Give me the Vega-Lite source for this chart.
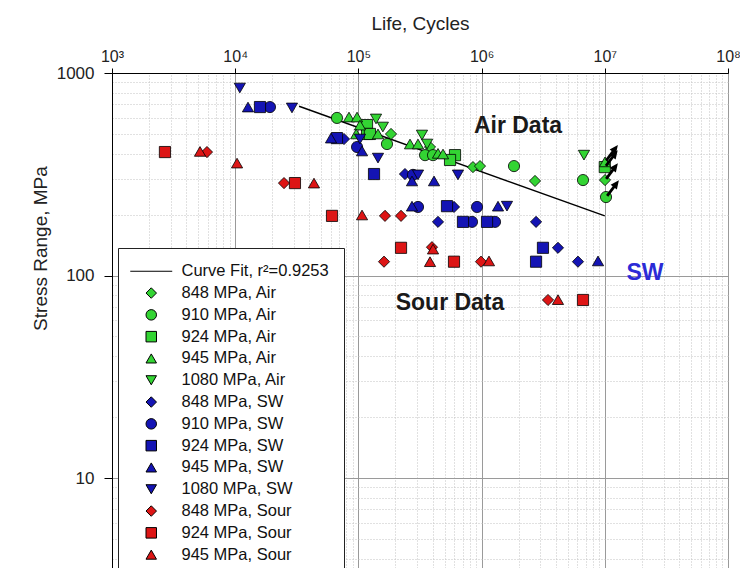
{
  "$schema": "https://vega.github.io/schema/vega-lite/v6.json",
  "width": 616,
  "height": 495,
  "autosize": {"type": "none"},
  "padding": {"left": 112, "top": 73, "right": 12, "bottom": 0},
  "background": "white",
  "config": {
    "font": "Liberation Sans",
    "view": {"stroke": "black", "strokeWidth": 1},
    "axis": {"labelColor": "#222", "titleColor": "#222", "titleFontWeight": "normal", "domainColor": "black", "tickColor": "black", "domainWidth": 1}
  },
  "layer": [
    {
      "data": {"values": [{"N": 33000, "S": 685}, {"N": 10000000, "S": 197}]},
      "mark": {"type": "line", "color": "black", "strokeWidth": 1.4},
      "encoding": {
        "x": {
          "field": "N", "type": "quantitative",
          "scale": {"type": "log", "domain": [1000, 100000000], "nice": false},
          "axis": {
            "orient": "top",
            "values": [1000,2000,3000,4000,5000,6000,7000,8000,9000,10000,20000,30000,40000,50000,60000,70000,80000,90000,100000,200000,300000,400000,500000,600000,700000,800000,900000,1000000,2000000,3000000,4000000,5000000,6000000,7000000,8000000,9000000,10000000,20000000,30000000,40000000,50000000,60000000,70000000,80000000,90000000,100000000],
            "grid": true,
            "gridColor": {"condition": {"test": "abs(log(datum.value)/LN10 - round(log(datum.value)/LN10)) < 0.001", "value": "#9a9a9a"}, "value": "#c2c2c2"},
            "gridDash": {"condition": {"test": "abs(log(datum.value)/LN10 - round(log(datum.value)/LN10)) < 0.001", "value": []}, "value": [1, 2]},
            "tickOpacity": {"condition": {"test": "abs(log(datum.value)/LN10 - round(log(datum.value)/LN10)) < 0.001", "value": 1}, "value": 0},
            "tickSize": 5,
            "labelExpr": "abs(log(datum.value)/LN10 - round(log(datum.value)/LN10)) < 0.001 ? '10' + ['⁰','¹','²','³','⁴','⁵','⁶','⁷','⁸','⁹'][round(log(datum.value)/LN10)] : ''",
            "labelFontSize": 16,
            "labelPadding": 4,
            "labelOverlap": false,
            "labelBound": false,
            "labelFlush": false,
            "title": "Life, Cycles",
            "titleFontSize": 19,
            "titleY": -40,
            "titleBaseline": "bottom"
          }
        },
        "y": {
          "field": "S", "type": "quantitative",
          "scale": {"type": "log", "domain": [3.594, 1000], "nice": false},
          "axis": {
            "orient": "left",
            "values": [4,5,6,7,8,9,10,20,30,40,50,60,70,80,90,100,200,300,400,500,600,700,800,900,1000],
            "grid": true,
            "gridColor": {"condition": {"test": "abs(log(datum.value)/LN10 - round(log(datum.value)/LN10)) < 0.001", "value": "#9a9a9a"}, "value": "#c2c2c2"},
            "gridDash": {"condition": {"test": "abs(log(datum.value)/LN10 - round(log(datum.value)/LN10)) < 0.001", "value": []}, "value": [1, 2]},
            "tickOpacity": {"condition": {"test": "abs(log(datum.value)/LN10 - round(log(datum.value)/LN10)) < 0.001", "value": 1}, "value": 0},
            "tickSize": 8,
            "labelExpr": "abs(log(datum.value)/LN10 - round(log(datum.value)/LN10)) < 0.001 ? format(datum.value, 'd') : ''",
            "labelFontSize": 17,
            "labelPadding": 10,
            "labelOverlap": false,
            "labelBound": false,
            "labelFlush": false,
            "title": "Stress Range, MPa",
            "titleFontSize": 19,
            "titleAngle": 270,
            "titleX": -72,
            "titleY": 175,
            "titleBaseline": "middle",
            "titleAlign": "center"
          }
        }
      }
    },
    {
      "data": {"values": [
        {"series": "848 MPa, Air", "N": 184000, "S": 500},
        {"series": "848 MPa, Air", "N": 381300, "S": 431},
        {"series": "848 MPa, Air", "N": 851000, "S": 343},
        {"series": "848 MPa, Air", "N": 970500, "S": 347},
        {"series": "848 MPa, Air", "N": 2713000, "S": 293},
        {"series": "848 MPa, Air", "N": 10040000, "S": 296},
        {"series": "910 MPa, Air", "N": 67000, "S": 600},
        {"series": "910 MPa, Air", "N": 170600, "S": 446},
        {"series": "910 MPa, Air", "N": 347500, "S": 393},
        {"series": "910 MPa, Air", "N": 403400, "S": 393},
        {"series": "910 MPa, Air", "N": 1832000, "S": 347},
        {"series": "910 MPa, Air", "N": 6653000, "S": 296},
        {"series": "910 MPa, Air", "N": 10230000, "S": 244},
        {"series": "924 MPa, Air", "N": 117500, "S": 553},
        {"series": "924 MPa, Air", "N": 117500, "S": 500},
        {"series": "924 MPa, Air", "N": 124000, "S": 500},
        {"series": "924 MPa, Air", "N": 608200, "S": 393},
        {"series": "924 MPa, Air", "N": 554400, "S": 372},
        {"series": "924 MPa, Air", "N": 10000000, "S": 343},
        {"series": "945 MPa, Air", "N": 83900, "S": 606},
        {"series": "945 MPa, Air", "N": 97500, "S": 606},
        {"series": "945 MPa, Air", "N": 103000, "S": 553},
        {"series": "945 MPa, Air", "N": 96000, "S": 500},
        {"series": "945 MPa, Air", "N": 144200, "S": 500},
        {"series": "945 MPa, Air", "N": 262400, "S": 446},
        {"series": "945 MPa, Air", "N": 304700, "S": 446},
        {"series": "945 MPa, Air", "N": 442700, "S": 401},
        {"series": "945 MPa, Air", "N": 486100, "S": 398},
        {"series": "945 MPa, Air", "N": 10040000, "S": 364},
        {"series": "1080 MPa, Air", "N": 139000, "S": 593},
        {"series": "1080 MPa, Air", "N": 158000, "S": 541},
        {"series": "1080 MPa, Air", "N": 328200, "S": 494},
        {"series": "1080 MPa, Air", "N": 360800, "S": 446},
        {"series": "1080 MPa, Air", "N": 6777000, "S": 393},
        {"series": "848 MPa, SW", "N": 76400, "S": 472},
        {"series": "848 MPa, SW", "N": 238800, "S": 317},
        {"series": "848 MPa, SW", "N": 597000, "S": 218},
        {"series": "848 MPa, SW", "N": 442700, "S": 184},
        {"series": "848 MPa, SW", "N": 2767000, "S": 184},
        {"series": "848 MPa, SW", "N": 4169000, "S": 137},
        {"series": "848 MPa, SW", "N": 6057000, "S": 117},
        {"series": "910 MPa, SW", "N": 19150, "S": 679},
        {"series": "910 MPa, SW", "N": 97500, "S": 431},
        {"series": "910 MPa, SW", "N": 277300, "S": 314},
        {"series": "910 MPa, SW", "N": 304700, "S": 218},
        {"series": "910 MPa, SW", "N": 918000, "S": 218},
        {"series": "910 MPa, SW", "N": 835700, "S": 184},
        {"series": "910 MPa, SW", "N": 1285000, "S": 184},
        {"series": "924 MPa, SW", "N": 15890, "S": 679},
        {"series": "924 MPa, SW", "N": 67000, "S": 477},
        {"series": "924 MPa, SW", "N": 133900, "S": 317},
        {"series": "924 MPa, SW", "N": 523600, "S": 220},
        {"series": "924 MPa, SW", "N": 706000, "S": 184},
        {"series": "924 MPa, SW", "N": 1107000, "S": 184},
        {"series": "924 MPa, SW", "N": 3148000, "S": 137},
        {"series": "924 MPa, SW", "N": 2767000, "S": 117},
        {"series": "945 MPa, SW", "N": 12700, "S": 679},
        {"series": "945 MPa, SW", "N": 59950, "S": 477},
        {"series": "945 MPa, SW", "N": 107000, "S": 412},
        {"series": "945 MPa, SW", "N": 272300, "S": 293},
        {"series": "945 MPa, SW", "N": 411000, "S": 293},
        {"series": "945 MPa, SW", "N": 272300, "S": 220},
        {"series": "945 MPa, SW", "N": 1359000, "S": 220},
        {"series": "945 MPa, SW", "N": 8810000, "S": 118},
        {"series": "1080 MPa, SW", "N": 10900, "S": 843},
        {"series": "1080 MPa, SW", "N": 28900, "S": 672},
        {"series": "1080 MPa, SW", "N": 103000, "S": 472},
        {"series": "1080 MPa, SW", "N": 144200, "S": 380},
        {"series": "1080 MPa, SW", "N": 304700, "S": 314},
        {"series": "1080 MPa, SW", "N": 643000, "S": 314},
        {"series": "1080 MPa, SW", "N": 1607000, "S": 220},
        {"series": "848 MPa, Sour", "N": 5900, "S": 407},
        {"series": "848 MPa, Sour", "N": 24900, "S": 286},
        {"series": "848 MPa, Sour", "N": 164400, "S": 197},
        {"series": "848 MPa, Sour", "N": 221800, "S": 197},
        {"series": "848 MPa, Sour", "N": 395600, "S": 138},
        {"series": "848 MPa, Sour", "N": 161400, "S": 117},
        {"series": "848 MPa, Sour", "N": 989000, "S": 117},
        {"series": "848 MPa, Sour", "N": 3459000, "S": 75.7},
        {"series": "924 MPa, Sour", "N": 2690, "S": 407},
        {"series": "924 MPa, Sour", "N": 30550, "S": 286},
        {"series": "924 MPa, Sour", "N": 61080, "S": 197},
        {"series": "924 MPa, Sour", "N": 221800, "S": 137},
        {"series": "924 MPa, Sour", "N": 597000, "S": 117},
        {"series": "924 MPa, Sour", "N": 6653000, "S": 75.7},
        {"series": "945 MPa, Sour", "N": 5180, "S": 410},
        {"series": "945 MPa, Sour", "N": 10350, "S": 359},
        {"series": "945 MPa, Sour", "N": 43600, "S": 286},
        {"series": "945 MPa, Sour", "N": 107000, "S": 199},
        {"series": "945 MPa, Sour", "N": 403400, "S": 135},
        {"series": "945 MPa, Sour", "N": 381300, "S": 117},
        {"series": "945 MPa, Sour", "N": 1148000, "S": 118},
        {"series": "945 MPa, Sour", "N": 4169000, "S": 76}
      ]},
      "mark": {"type": "point", "filled": true, "stroke": "black", "strokeWidth": 0.8, "size": 125, "opacity": 1},
      "encoding": {
        "x": {"field": "N", "type": "quantitative"},
        "y": {"field": "S", "type": "quantitative"},
        "color": {
          "field": "series", "type": "nominal",
          "scale": {
            "domain": ["Curve Fit, r²=0.9253", "848 MPa, Air", "910 MPa, Air", "924 MPa, Air", "945 MPa, Air", "1080 MPa, Air", "848 MPa, SW", "910 MPa, SW", "924 MPa, SW", "945 MPa, SW", "1080 MPa, SW", "848 MPa, Sour", "924 MPa, Sour", "945 MPa, Sour"],
            "range": ["black", "#33d433", "#33d433", "#33d433", "#33d433", "#33d433", "#1414b4", "#1414b4", "#1414b4", "#1414b4", "#1414b4", "#dd1515", "#dd1515", "#dd1515"]
          },
          "legend": {"orient": "none", "legendX": 6, "legendY": 175, "title": null, "fillColor": "white", "strokeColor": "#222", "padding": 15, "labelFontSize": 16.5, "labelColor": "#111", "symbolSize": 110, "symbolStrokeWidth": 1, "symbolOffset": 10, "labelOffset": 22, "rowPadding": 4.8, "labelLimit": 400}
        },
        "shape": {
          "field": "series", "type": "nominal",
          "scale": {
            "domain": ["Curve Fit, r²=0.9253", "848 MPa, Air", "910 MPa, Air", "924 MPa, Air", "945 MPa, Air", "1080 MPa, Air", "848 MPa, SW", "910 MPa, SW", "924 MPa, SW", "945 MPa, SW", "1080 MPa, SW", "848 MPa, Sour", "924 MPa, Sour", "945 MPa, Sour"],
            "range": ["M-4,0H4", "diamond", "circle", "square", "triangle-up", "triangle-down", "diamond", "circle", "square", "triangle-up", "triangle-down", "diamond", "square", "triangle-up"]
          },
          "legend": {"orient": "none", "legendX": 6, "legendY": 175, "title": null, "fillColor": "white", "strokeColor": "#222", "padding": 15, "labelFontSize": 16.5, "labelColor": "#111", "symbolSize": 110, "symbolStrokeWidth": 1, "symbolOffset": 10, "labelOffset": 22, "rowPadding": 4.8, "labelLimit": 400}
        }
      }
    },
    {
      "data": {"values": [
        {"N": 10040000, "S": 364},
        {"N": 10000000, "S": 343},
        {"N": 10040000, "S": 296},
        {"N": 10230000, "S": 244}
      ]},
      "mark": {"type": "point", "shape": "arrow", "filled": true, "color": "black", "size": 380, "angle": 37, "xOffset": 7, "yOffset": -9, "opacity": 1},
      "encoding": {
        "x": {"field": "N", "type": "quantitative"},
        "y": {"field": "S", "type": "quantitative"}
      }
    },
    {
      "data": {"values": [
        {"label": "Air Data", "N": 1975000, "S": 547},
        {"label": "Sour Data", "N": 554000, "S": 73.1},
        {"label": "SW", "N": 21200000, "S": 102.9}
      ]},
      "mark": {"type": "text", "fontWeight": "bold", "fontSize": 23, "align": "center", "baseline": "middle"},
      "encoding": {
        "x": {"field": "N", "type": "quantitative"},
        "y": {"field": "S", "type": "quantitative"},
        "text": {"field": "label"},
        "color": {"condition": {"test": "datum.label === 'SW'", "value": "#2b2bd6"}, "value": "#1a1a1a"}
      }
    }
  ]
}
